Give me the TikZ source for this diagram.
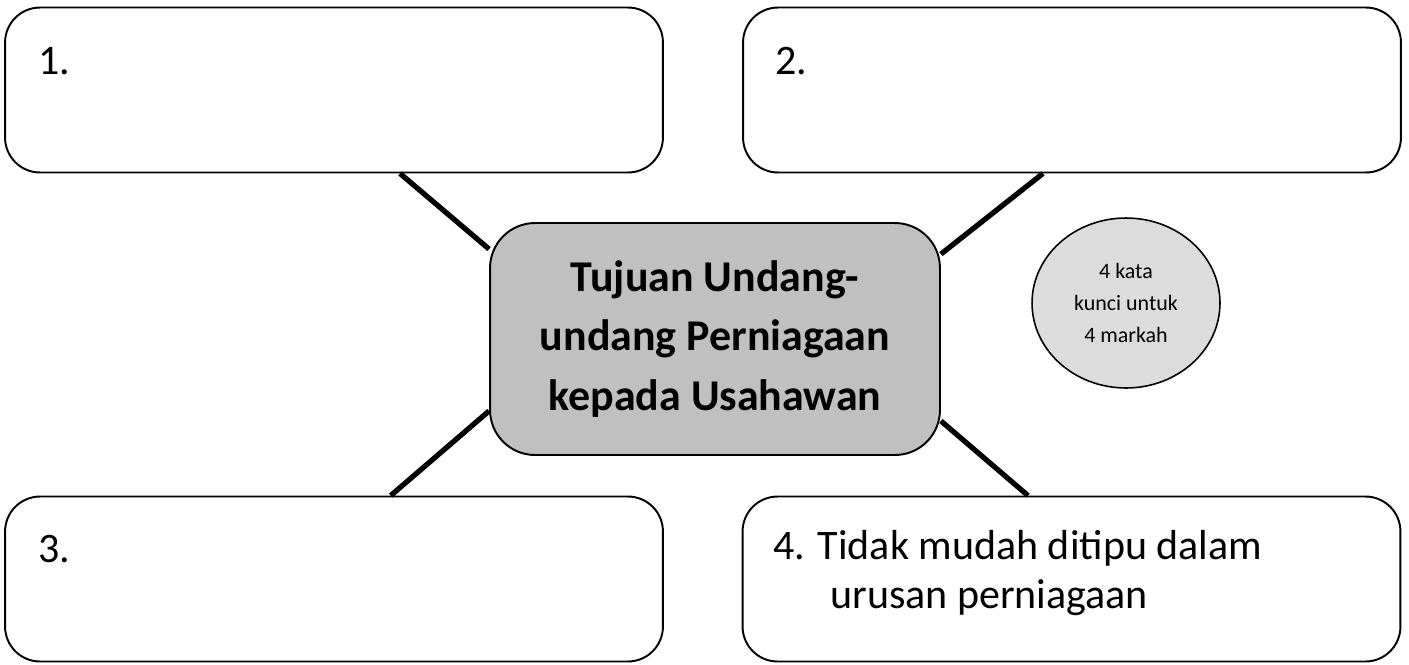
\documentclass[tikz,border=0pt]{standalone}
\usepackage{fontspec}
\setmainfont{Carlito}
\usetikzlibrary{calc,shapes.geometric}
\definecolor{hubgray}{HTML}{C0C0C0}
\definecolor{notegray}{HTML}{DCDCDC}
\tikzset{
  box/.style={draw=black, line width=1.1pt, rounded corners=0.7cm, minimum width=13.16cm,
              minimum height=3.3cm, inner sep=0pt},
  hub/.style={draw=black, line width=1.1pt, fill=hubgray, rounded corners=0.9cm, minimum width=9cm,
              minimum height=4.64cm, align=center, font=\bfseries\fontsize{25}{34}\selectfont},
  note/.style={ellipse, draw=black, line width=0.9pt, fill=notegray, minimum width=3.76cm,
               minimum height=3.4cm, inner sep=0pt, align=center, font=\fontsize{12.5}{18}\selectfont},
  num/.style={anchor=base west, inner sep=0pt, align=left, font=\fontsize{23.9}{27.5}\selectfont},
  spoke/.style={line width=3pt},
}

\begin{document}
\begin{tikzpicture}[x=0.02cm, y=-0.02cm]
  \useasboundingbox (0,0) rectangle (1409,664);
  % four answer boxes
  \node[box] (b1) at (334,90) {};
  \node[box] (b2) at (1072,90) {};
  \node[box] (b3) at (334,579) {};
  \node[box] (b4) at (1071.5,579) {};
  % centre topic and the hint
  \node[hub] (ctr) at (715,339) {Tujuan Undang-\\undang Perniagaan\\kepada Usahawan};
  \node[note] (kunci) at (1126,303) {4 kata\\kunci untuk\\4 markah};
  % numbers and the given answer
  \node[num] (t1) at (38,74) {1.};
  \node[num] (t2) at (775,74) {2.};
  \node[num] (t3) at (38,562) {3.};
  \node[num] (t4) at (773,608) {4. Tidak mudah ditipu dalam\\\hspace*{1.14cm}urusan perniagaan};
  % spokes
  \draw[spoke] ($(b1.south west)!0.6!(b1.south east)$) -- ($(ctr.north west)+(0,27)$);
  \draw[spoke] ($(b2.south west)!0.456!(b2.south east)$) -- ($(ctr.north east)+(0,32)$);
  \draw[spoke] ($(b3.north west)!0.586!(b3.north east)$) -- ($(ctr.south west)+(0,-45)$);
  \draw[spoke] ($(b4.north west)!0.434!(b4.north east)$) -- ($(ctr.south east)+(0,-35)$);
\end{tikzpicture}
\end{document}
